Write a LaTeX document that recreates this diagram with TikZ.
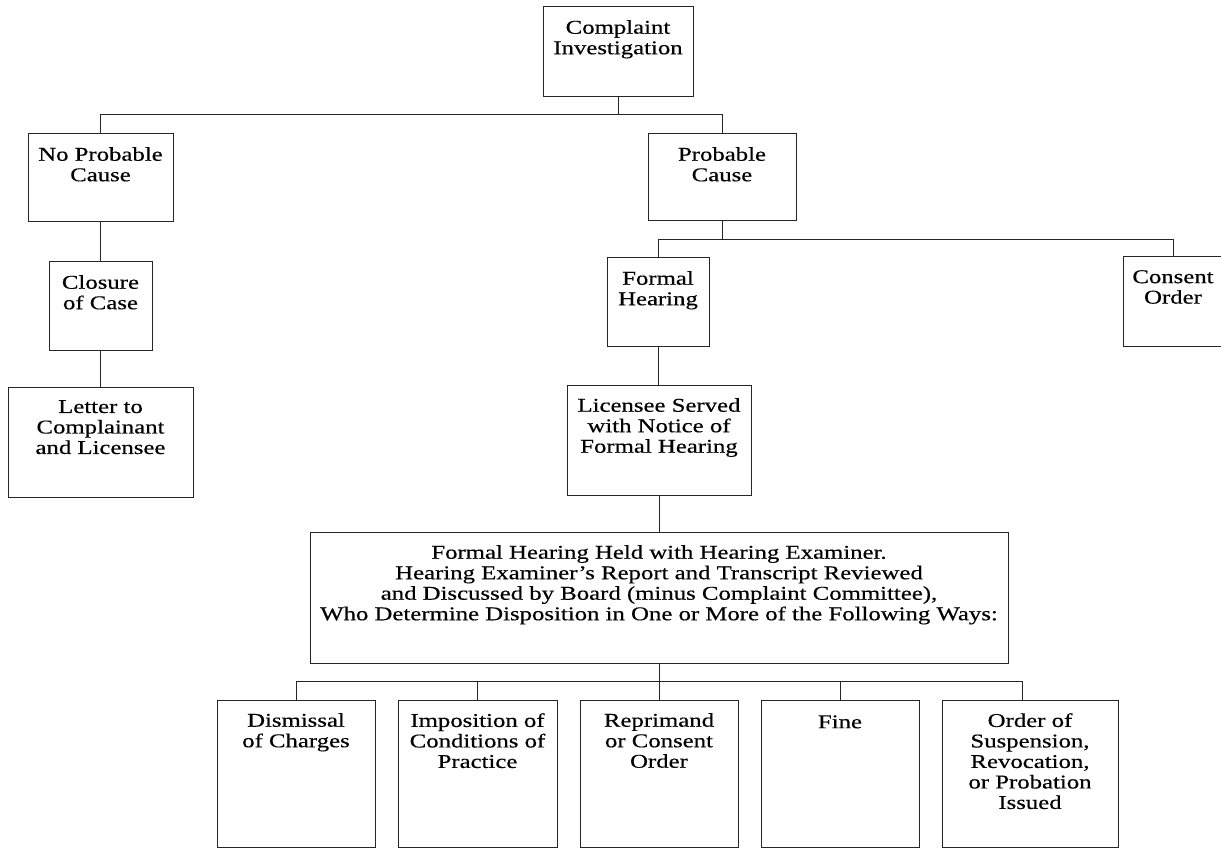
\documentclass[tikz,border=0pt]{standalone}
\usepackage{fontspec}
\setmainfont{Liberation Serif}[FakeStretch=1.27,FakeBold=0.4]
\newcommand\mybox[6]{%
  \node[box, minimum width={(#4-#2)*1pt}, minimum height={(#5-#3)*1pt}] (#1) at ({(#2+#4)/2},{(#3+#5)/2}) {};
  \node[txt, anchor=north] (#1-t) at ([yshift=-13pt]#1.north) {#6};
}
\begin{document}
\begin{tikzpicture}[x=1pt,y=-1pt,
  box/.style={draw=black!85, line width=1pt, inner sep=0pt, outer sep=0pt},
  txt/.style={align=center, inner sep=0pt, font=\fontsize{19.5}{20.5}\selectfont,
    execute at begin node={\rule{0pt}{15pt}}},
  conn/.style={draw=black!85, line width=1pt}]
\fill[white] (0,0) rectangle (1221,850);
\useasboundingbox (0,0) rectangle (1221,850);
\clip (0,0) rectangle (1221,850);

\mybox{ci}{543}{7}{693}{97}{Complaint\\Investigation}
\mybox{npc}{28}{134}{173}{222}{No Probable\\Cause}
\mybox{cc}{49}{262}{152}{350}{Closure\\of Case}
\mybox{let}{8}{387}{193}{497}{Letter to\\Complainant\\and Licensee}
\mybox{pc}{648}{134}{796}{221}{Probable\\Cause}
\mybox{fh}{607}{258}{709}{347}{Formal\\Hearing}
\mybox{co}{1123}{257}{1223}{347}{Consent\\Order}
\mybox{ls}{567}{385}{751}{495}{Licensee Served\\with Notice of\\Formal Hearing}
\mybox{big}{310}{532}{1008}{663}{Formal Hearing Held with Hearing Examiner.\\Hearing Examiner’s Report and Transcript Reviewed\\and Discussed by Board (minus Complaint Committee),\\Who Determine Disposition in One or More of the Following Ways:}
\mybox{d1}{217}{700}{375}{847}{Dismissal\\of Charges}
\mybox{d2}{398}{700}{557}{847}{Imposition of\\Conditions of\\Practice}
\mybox{d3}{580}{700}{738}{847}{Reprimand\\or Consent\\Order}
\mybox{d4}{761}{700}{919}{847}{Fine}
\mybox{d5}{942}{700}{1118}{847}{Order of\\Suspension,\\Revocation,\\or Probation\\Issued}

\coordinate (b1) at (0,115);
\coordinate (b2) at (0,240);
\coordinate (b3) at (0,681);
\coordinate (d5top) at (1022,700);

\draw[conn] (ci.south) -- (ci.south |- b1);
\draw[conn] (npc.north) -- (npc.north |- b1) -- (pc.north |- b1) -- (pc.north);
\draw[conn] (npc.south) -- (cc.north);
\draw[conn] (cc.south) -- (let.north);
\draw[conn] (pc.south) -- (pc.south |- b2);
\draw[conn] (fh.north) -- (fh.north |- b2) -- (co.north |- b2) -- (co.north);
\draw[conn] (fh.south) -- (fh.south |- ls.north);
\draw[conn] (ls.south) -- (ls.south |- big.north);
\draw[conn] (big.south) -- (big.south |- d3.north);
\draw[conn] (d1.north) -- (d1.north |- b3) -- (d5top |- b3) -- (d5top);
\draw[conn] (d2.north) -- (d2.north |- b3);
\draw[conn] (d4.north) -- (d4.north |- b3);
\end{tikzpicture}
\end{document}
